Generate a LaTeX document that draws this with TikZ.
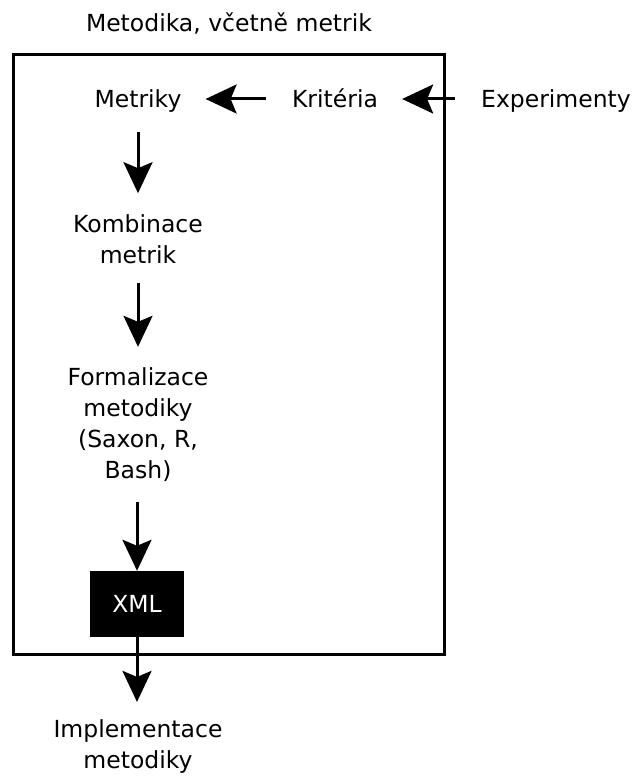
\documentclass[tikz,border=0pt]{standalone}
\usepackage{fontspec}
\setmainfont{DejaVu Sans}
\usetikzlibrary{arrows.meta}
\begin{document}
\begin{tikzpicture}[x=1pt,y=-1pt,font=\fontsize{23.5}{31}\selectfont,
          step label/.style={align=center,inner sep=0pt},
          flow/.style={-{Stealth[length=31pt,width=29pt,inset=6pt]},line width=3pt},
          hflow/.style={flow,shorten <=26pt,shorten >=24pt},
          vflow/.style={flow,shorten <=19pt,shorten >=21pt},
          xmlbox/.style={fill=black,text=white,minimum width=94pt,minimum height=66pt,
                         inner sep=0pt}]
        \useasboundingbox (0,0) rectangle (636,778);
        \node[step label,anchor=base] (title) at (229,32) {Metodika, včetně metrik};
        \draw[line width=3pt] (13,55) rectangle (444,654);
        % top row, read from right to left
        \node[step label,anchor=base] (metriky) at (138,108) {Metriky};
        \node[step label,anchor=base] (kriteria) at (335,108) {Kritéria};
        \node[step label,anchor=base] (experimenty) at (556,108) {Experimenty};
        % arrows sit 9pt above the common baseline
        \draw[hflow] ([yshift=9pt]kriteria.base west) -- ([yshift=9pt]metriky.base east);
        \draw[hflow] ([yshift=9pt]experimenty.base west) -- ([yshift=9pt]kriteria.base east);
        % vertical chain
        \node[step label] (kombinace) at (138,239) {Kombinace\\metrik};
        \node[step label] (formalizace) at (138,425) {Formalizace\\metodiky\\(Saxon, R,\\Bash)};
        \node[xmlbox] (xml) at (137,604) {XML};
        \node[step label] (implementace) at (138,747) {Implementace\\metodiky};
        \draw[vflow] (metriky) -- (kombinace);
        \draw[vflow] (kombinace) -- (formalizace);
        \draw[flow,shorten <=20pt] (formalizace.south -| xml.north) -- (xml.north);
        \draw[flow,shorten >=18pt] (xml.south) -- (xml.south |- implementace.north);
      \end{tikzpicture}
\end{document}
